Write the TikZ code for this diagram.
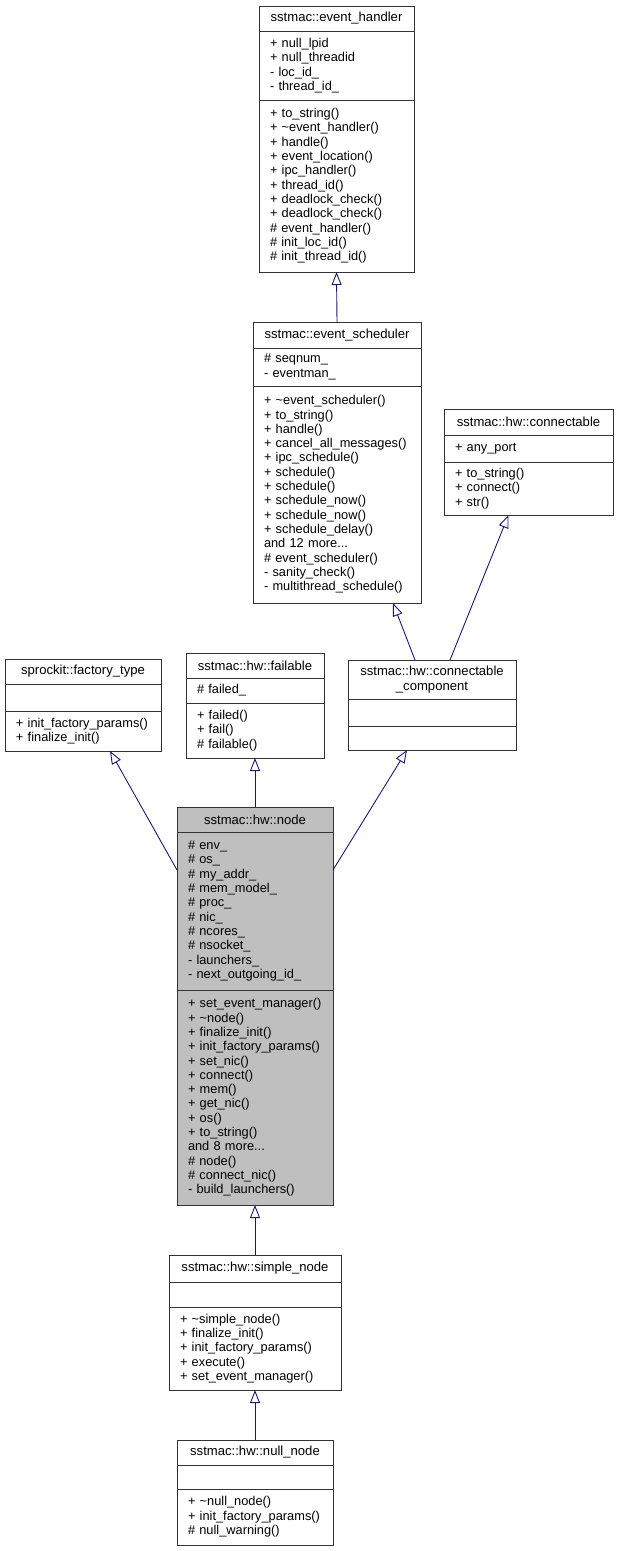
\documentclass[tikz,border=0pt]{standalone}
\usepackage{fontspec}
\newfontfamily\umlfont{Liberation Sans}
\usetikzlibrary{arrows.meta}
\definecolor{edgeblue}{RGB}{25,25,112}
\definecolor{focusgray}{RGB}{191,191,191}

\begin{document}
\begin{tikzpicture}[
    x=1pt, y=-1pt,
    part/.style={draw=black!80, line width=0.9pt, fill=white, anchor=north west,
      inner xsep=11pt, inner ysep=0pt, outer sep=0pt,
      font=\umlfont\fontsize{12.8}{14.33}\selectfont},
    head/.style={part, align=center, font=\umlfont\fontsize{13.1}{14.33}\selectfont},
    body/.style={part, align=left},
    gen/.style={draw=edgeblue, line width=0.9pt,
      -{Triangle[open, length=13pt, width=10pt, fill=white]}},
  ]
  \useasboundingbox (0,0) rectangle (618,1551);

  % event_handler
  \node [head, text width=133pt, minimum height=25pt] (handler) at (259,6) {sstmac::event\_handler};
  \node [body, text width=133pt, minimum height=69pt] (handler-a) at (handler.south west)
    {+ null\_lpid\\+ null\_threadid\\- loc\_id\_\\- thread\_id\_};
  \node [body, text width=133pt, minimum height=172pt] (handler-o) at (handler-a.south west)
    {+ to\_string()\\+ \textasciitilde event\_handler()\\+ handle()\\+ event\_location()\\+ ipc\_handler()\\+ thread\_id()\\+ deadlock\_check()\\+ deadlock\_check()\\\# event\_handler()\\\# init\_loc\_id()\\\# init\_thread\_id()};

  % event_scheduler
  \node [head, text width=146pt, minimum height=26pt] (sched) at (253,322) {sstmac::event\_scheduler};
  \node [body, text width=146pt, minimum height=38pt] (sched-a) at (sched.south west)
    {\# seqnum\_\\- eventman\_};
  \node [body, text width=146pt, minimum height=217pt] (sched-o) at (sched-a.south west)
    {+ \textasciitilde event\_scheduler()\\+ to\_string()\\+ handle()\\+ cancel\_all\_messages()\\+ ipc\_schedule()\\+ schedule()\\+ schedule()\\+ schedule\_now()\\+ schedule\_now()\\+ schedule\_delay()\\and 12 more...\\\# event\_scheduler()\\- sanity\_check()\\- multithread\_schedule()};

  % connectable
  \node [head, text width=147pt, minimum height=26pt] (conn) at (444,409) {sstmac::hw::connectable};
  \node [body, text width=147pt, minimum height=27pt] (conn-a) at (conn.south west) {+ any\_port};
  \node [body, text width=147pt, minimum height=53pt] (conn-o) at (conn-a.south west)
    {+ to\_string()\\+ connect()\\+ str()};

  % factory_type
  \node [head, text width=134pt, minimum height=25pt] (factory) at (5,659) {sprockit::factory\_type};
  \node [body, text width=134pt, minimum height=27pt] (factory-a) at (factory.south west) {};
  \node [body, text width=134pt, minimum height=40pt] (factory-o) at (factory-a.south west)
    {+ init\_factory\_params()\\+ finalize\_init()};

  % failable
  \node [head, text width=116pt, minimum height=25pt] (failable) at (186,653) {sstmac::hw::failable};
  \node [body, text width=116pt, minimum height=25pt] (failable-a) at (failable.south west) {\# failed\_};
  \node [body, text width=116pt, minimum height=55pt] (failable-o) at (failable-a.south west)
    {+ failed()\\+ fail()\\\# failable()};

  % connectable_component
  \node [head, text width=146pt, minimum height=39pt] (comp) at (348,660) {sstmac::hw::connectable\\\_component};
  \node [body, text width=146pt, minimum height=27pt] (comp-a) at (comp.south west) {};
  \node [body, text width=146pt, minimum height=24pt] (comp-o) at (comp-a.south west) {};

  % node
  \node [head, text width=134pt, minimum height=25pt, fill=focusgray] (node) at (177,807) {sstmac::hw::node};
  \node [body, text width=134pt, minimum height=158pt, fill=focusgray] (node-a) at (node.south west)
    {\# env\_\\\# os\_\\\# my\_addr\_\\\# mem\_model\_\\\# proc\_\\\# nic\_\\\# ncores\_\\\# nsocket\_\\- launchers\_\\- next\_outgoing\_id\_};
  \node [body, text width=134pt, minimum height=215pt, fill=focusgray] (node-o) at (node-a.south west)
    {+ set\_event\_manager()\\+ \textasciitilde node()\\+ finalize\_init()\\+ init\_factory\_params()\\+ set\_nic()\\+ connect()\\+ mem()\\+ get\_nic()\\+ os()\\+ to\_string()\\and 8 more...\\\# node()\\\# connect\_nic()\\- build\_launchers()};

  % simple_node
  \node [head, text width=150pt, minimum height=27pt] (simple) at (169,1255) {sstmac::hw::simple\_node};
  \node [body, text width=150pt, minimum height=25pt] (simple-a) at (simple.south west) {};
  \node [body, text width=150pt, minimum height=83pt] (simple-o) at (simple-a.south west)
    {+ \textasciitilde simple\_node()\\+ finalize\_init()\\+ init\_factory\_params()\\+ execute()\\+ set\_event\_manager()};

  % null_node
  \node [head, text width=134pt, minimum height=25pt] (null) at (177,1440) {sstmac::hw::null\_node};
  \node [body, text width=134pt, minimum height=24pt] (null-a) at (null.south west) {};
  \node [body, text width=134pt, minimum height=56pt] (null-o) at (null-a.south west)
    {+ \textasciitilde null\_node()\\+ init\_factory\_params()\\\# null\_warning()};

  % inheritance
  \draw [gen] (sched.north) -- (handler-o.south);
  \draw [gen] ([xshift=-17pt]comp.north) -- ([xshift=56pt]sched-o.south);
  \draw [gen] ([xshift=18pt]comp.north) -- ([xshift=-20pt]conn-o.south);
  \draw [gen] ([yshift=41pt]node-a.west) -- ([xshift=27pt]factory-o.south);
  \draw [gen] (node.north) -- (failable-o.south);
  \draw [gen] ([yshift=41pt]node-a.east) -- ([xshift=-25pt]comp-o.south);
  \draw [gen] (simple.north) -- (node-o.south);
  \draw [gen] (null.north) -- (simple-o.south);
\end{tikzpicture}
\end{document}
